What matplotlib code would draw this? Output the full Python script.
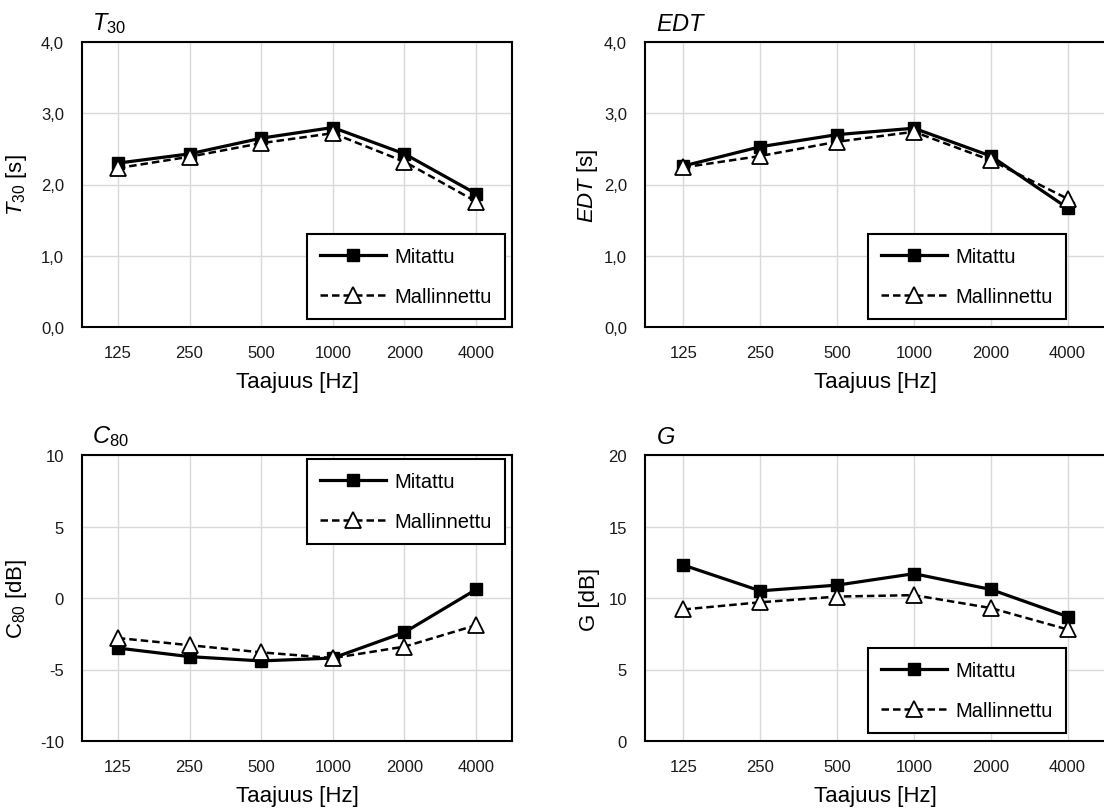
import matplotlib
matplotlib.use("Agg")
import matplotlib.pyplot as plt
from matplotlib.ticker import FuncFormatter

plt.rcParams['font.family'] = ['Liberation Sans', 'DejaVu Sans']
plt.rcParams['mathtext.fontset'] = 'custom'
plt.rcParams['mathtext.rm'] = 'Liberation Sans'
plt.rcParams['mathtext.it'] = 'Liberation Sans:italic'

# Data
freqs = ["125", "250", "500", "1000", "2000", "4000"]

t30_measured = [2.30, 2.43, 2.65, 2.80, 2.43, 1.87]
t30_modelled = [2.23, 2.39, 2.58, 2.72, 2.32, 1.76]

edt_measured = [2.26, 2.53, 2.70, 2.79, 2.40, 1.67]
edt_modelled = [2.24, 2.40, 2.60, 2.74, 2.34, 1.80]

c80_measured = [-3.5, -4.1, -4.4, -4.2, -2.4, 0.6]
c80_modelled = [-2.8, -3.3, -3.8, -4.2, -3.4, -1.9]

g_measured = [12.3, 10.5, 10.9, 11.7, 10.6, 8.7]
g_modelled = [9.2, 9.7, 10.1, 10.2, 9.3, 7.8]

W, H = 1104, 812
fig = plt.figure(figsize=(W / 100, H / 100), dpi=100)


def px_axes(left, top, right, bottom):
    return fig.add_axes([left / W, 1 - bottom / H, (right - left) / W, (bottom - top) / H])


def draw_panel(ax, measured, modelled, ylim, yticks, fmt, title, ylabel,
               legend_corner, ylabel_x, title_x):
    x = list(range(len(freqs)))
    ax.plot(x, measured, color="black", lw=2.3, ls="-", marker="s", ms=8.5,
            mfc="black", mec="black", label="Mitattu", zorder=4)
    ax.plot(x, modelled, color="black", lw=1.8, ls=(0, (3, 1.6)), marker="^", ms=11,
            mfc="white", mec="black", mew=1.3, label="Mallinnettu", zorder=5)
    ax.set_xlim(-0.5, len(freqs) - 0.5)
    ax.set_ylim(*ylim)
    ax.set_xticks(x)
    ax.set_xticklabels(freqs)
    ax.set_yticks(yticks)
    ax.yaxis.set_major_formatter(FuncFormatter(fmt))
    ax.grid(True, color="#d9d9d9", lw=1.0)
    ax.set_axisbelow(True)
    for s in ax.spines.values():
        s.set_linewidth(1.5)
        s.set_color("black")
    ax.tick_params(length=0, labelsize=12, colors="#1a1a1a")
    ax.tick_params(axis="x", pad=13)
    ax.tick_params(axis="y", pad=13)
    ax.set_xlabel("Taajuus [Hz]", fontsize=16, labelpad=8)
    ax.set_ylabel(ylabel, fontsize=16)
    ax.yaxis.set_label_coords(ylabel_x, 0.5)
    ax.text(title_x, 1.025, title, transform=ax.transAxes, fontsize=17,
            ha="left", va="bottom")
    leg = ax.legend(loc="lower right", bbox_to_anchor=legend_corner, borderaxespad=0,
                    fontsize=14.5, handlelength=3.3, handletextpad=0.4,
                    labelspacing=1.05, borderpad=0.65, fancybox=False,
                    framealpha=1, edgecolor="black")
    leg.get_frame().set_linewidth(1.5)


def dec_fmt(v, pos):
    return f"{v:.1f}".replace(".", ",")


def int_fmt(v, pos):
    return f"{v:.0f}"


# Top left: T30
ax1 = px_axes(82, 43, 512, 328)
draw_panel(ax1, t30_measured, t30_modelled, (0, 4), [0, 1, 2, 3, 4], dec_fmt,
           r"$\mathit{T}_{\mathrm{30}}$", r"$\mathit{T}_{\mathrm{30}}$ [s]",
           ((505 - 82) / 430, (328 - 320) / 285),
           (29 - 82) / 430, (92 - 82) / 430)

# Top right: EDT
ax2 = px_axes(645, 43, 1106, 328)
draw_panel(ax2, edt_measured, edt_modelled, (0, 4), [0, 1, 2, 3, 4], dec_fmt,
           r"$\mathit{EDT}$", r"$\mathit{EDT}$ [s]",
           ((1066 - 645) / 461, (328 - 320) / 285),
           (600 - 645) / 461, (656 - 645) / 461)

# Bottom left: C80
ax3 = px_axes(82, 456, 512, 742)
draw_panel(ax3, c80_measured, c80_modelled, (-10, 10), [-10, -5, 0, 5, 10], int_fmt,
           r"$\mathit{C}_{\mathrm{80}}$", r"$\mathrm{C}_{\mathrm{80}}$ [dB]",
           ((505 - 82) / 430, (742 - 545) / 286),
           (29 - 82) / 430, (92 - 82) / 430)

# Bottom right: G
ax4 = px_axes(645, 456, 1106, 742)
draw_panel(ax4, g_measured, g_modelled, (0, 20), [0, 5, 10, 15, 20], int_fmt,
           r"$\mathit{G}$", "G [dB]",
           ((1066 - 645) / 461, (742 - 734) / 286),
           (600 - 645) / 461, (656 - 645) / 461)

fig.savefig("out.png", dpi=100)
